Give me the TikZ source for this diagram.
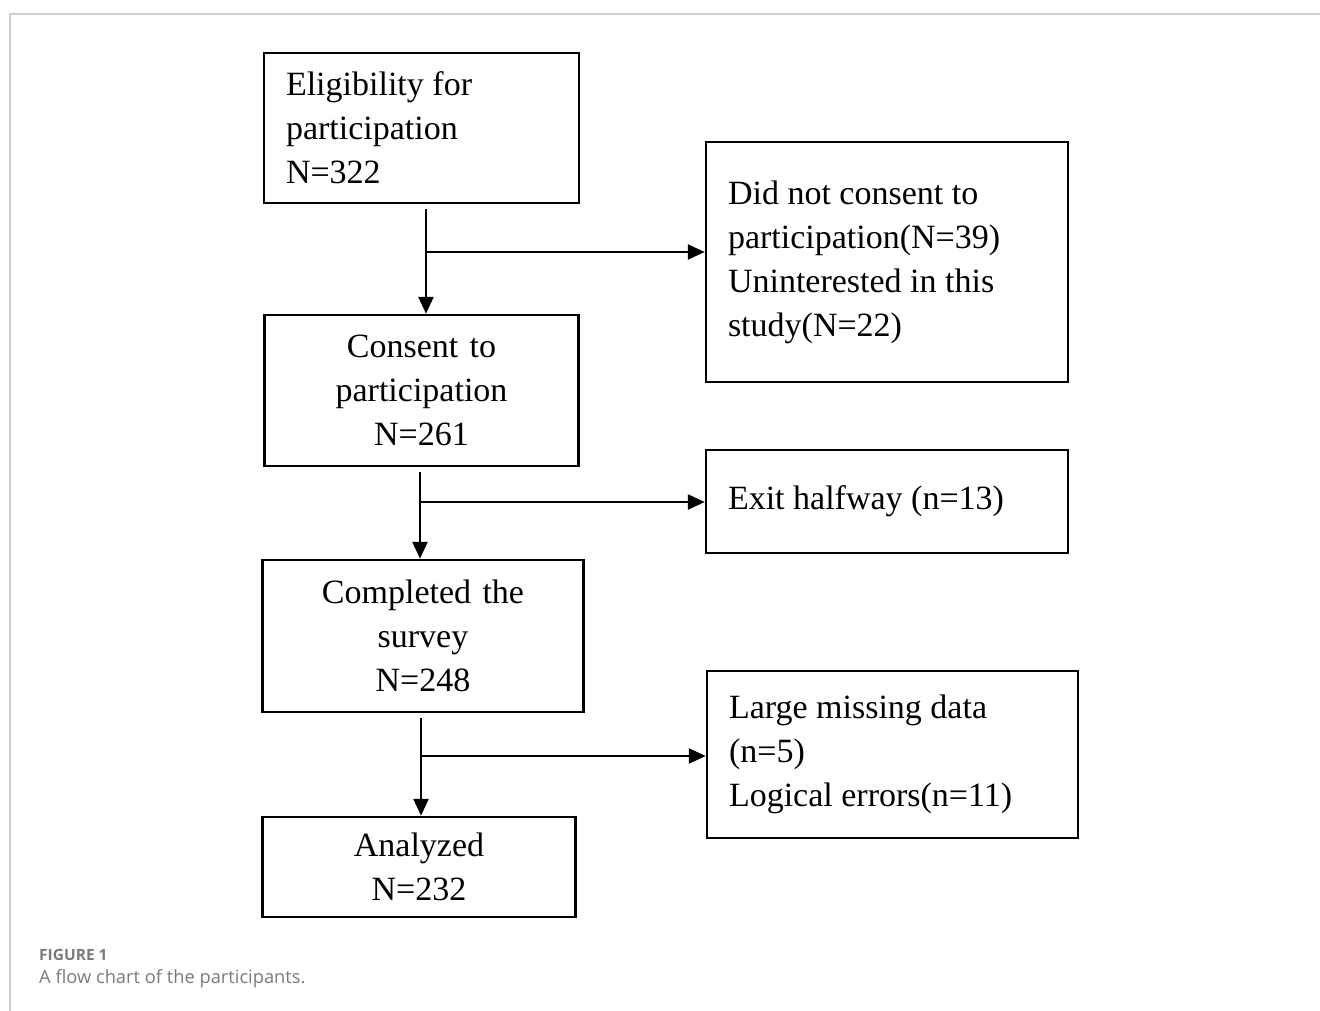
\documentclass[tikz,border=0pt]{standalone}
\usepackage{fontspec}
\setmainfont{Liberation Serif}
\setsansfont{Open Sans}
\usepackage{tikz}
\usetikzlibrary{shapes,arrows.meta}
\definecolor{framegray}{HTML}{CFCFCF}
\definecolor{captiongray}{HTML}{7A7A7A}
\tikzstyle{branch} = [coordinate]
\tikzstyle{stage} = [draw, rectangle, line width=2.5pt, inner xsep=22pt, inner ysep=0pt, align=center, font=\fontsize{34}{44}\selectfont]
\tikzstyle{reason} = [draw, rectangle, line width=2.5pt, inner xsep=22pt, inner ysep=0pt, align=flush left, font=\fontsize{34}{44}\selectfont]
\tikzstyle{flow} = [line width=2.5pt, -{Triangle[length=17pt,width=15pt]}]

\begin{document}
\begin{tikzpicture}[x=1pt, y=-1pt, node distance=250pt]
    \useasboundingbox (0,0) rectangle (1320,1011);
    % page frame and caption
    \draw [framegray, line width=1.5pt] (10,1011) -- (10,14) -- (1320,14);
    \node [anchor=west, inner sep=0pt, text=captiongray, font=\sffamily\fontsize{15.5}{18}\selectfont\bfseries] (figlabel) at (39,955) {FIGURE 1};
    \node [anchor=west, inner sep=0pt, text=captiongray, font=\sffamily\fontsize{18.3}{21}\selectfont] (figcaption) at (39,979) {A flow chart of the participants.};

    % We start by placing the blocks of the main column
    \node [stage, align=flush left, text width=271pt, minimum height=150pt] (elig) at (421.5,128) {Eligibility for\\participation\\N=322};
    \node [stage, below of=elig, node distance=262.5pt, text width=270pt, minimum height=151pt] (consent) {Consent to\\participation\\N=261};
    \node [stage, below of=consent, node distance=245.5pt, xshift=1.5pt, text width=277pt, minimum height=152pt] (completed) {Completed the\\survey\\N=248};
    \node [stage, below of=completed, node distance=231pt, xshift=-4pt, text width=269pt, minimum height=100pt] (analyzed) {Analyzed\\N=232};

    % then the exclusion boxes on the right
    \node [reason, text width=318pt, minimum height=240pt] (refused) at (887,262) {Did not consent to\\participation(N=39)\\Uninterested in this\\study(N=22)};
    \node [reason, text width=318pt, minimum height=103pt] (exited) at (887,501.5) {Exit halfway (n=13)};
    \node [reason, text width=327pt, minimum height=167pt] (excluded) at (892.5,754.5) {Large missing data\\(n=5)\\Logical errors(n=11)};

    % branch points on the vertical arrows
    \node [branch] (b1) at (426,252) {};
    \node [branch] (b2) at (420,502) {};
    \node [branch] (b3) at (421,756) {};

    % Once the nodes are placed, connecting them is easy.
    \draw [flow, shorten <=5pt] (elig.south -| b1) -- (consent.north -| b1);
    \draw [flow] (b1) -- (b1 -| refused.west);
    \draw [flow, shorten <=5pt] (consent.south -| b2) -- (completed.north -| b2);
    \draw [flow] (b2) -- (b2 -| exited.west);
    \draw [flow, shorten <=5pt] (completed.south -| b3) -- (analyzed.north -| b3);
    \draw [flow] (b3) -- (b3 -| excluded.west);
\end{tikzpicture}
\end{document}
